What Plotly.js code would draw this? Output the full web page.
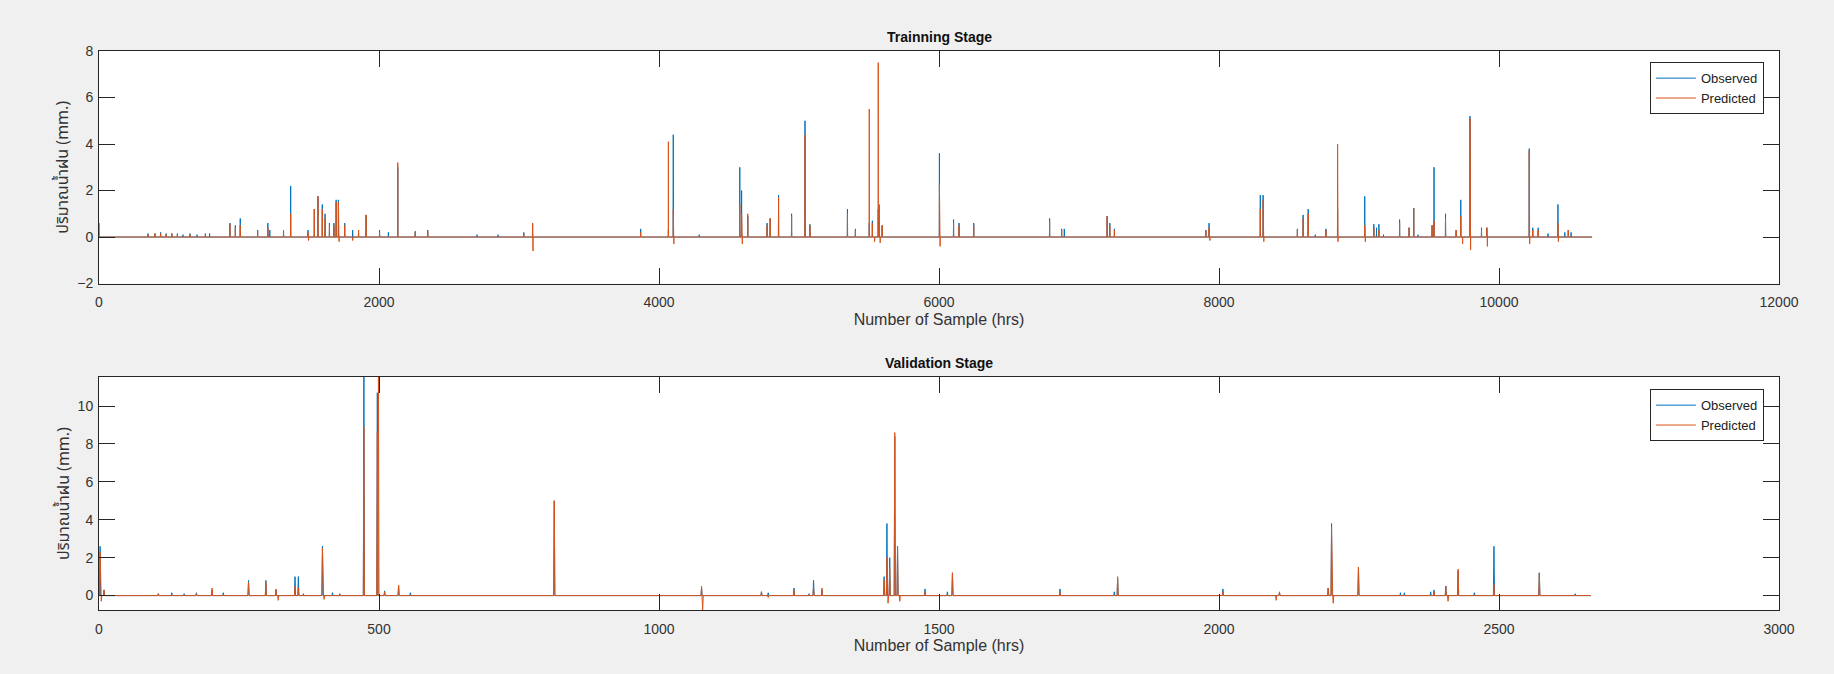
<!DOCTYPE html>
<html>
<head>
<meta charset="utf-8">
<script src="https://cdn.plot.ly/plotly-3.0.1.min.js"></script>
<style>
  html, body { margin: 0; padding: 0; background: #f0f0f0; }
  #chart { width: 1834px; height: 674px; }
</style>
</head>
<body>
<div id="chart"></div>
<script>
// ---------------- DATA ----------------
// Hourly rainfall series are zero except at the spikes listed here.
const trainLength = 10665;
const valLength = 2664;

// Training stage - Observed spikes (sample index, mm)
const trainObsX = [350, 400, 440, 480, 520, 560, 600, 650, 700, 760, 790, 935, 974, 1009, 1133, 1206, 1220, 1318, 1369, 1493, 1538, 1564, 1595, 1615, 1646, 1678, 1694, 1710, 1755, 1812, 1854, 1908, 2004, 2067, 2134, 2259, 2348, 2700, 2850, 3034, 3097, 3869, 4067, 4102, 4287, 4577, 4590, 4634, 4772, 4794, 4854, 4947, 5043, 5078, 5346, 5403, 5502, 5524, 5566, 5572, 5594, 6003, 6104, 6143, 6248, 6790, 6876, 6895, 7201, 7220, 7253, 7906, 7929, 8295, 8315, 8560, 8601, 8637, 8688, 8764, 8847, 9041, 9106, 9125, 9142, 9175, 9290, 9358, 9391, 9421, 9522, 9536, 9618, 9694, 9727, 9793, 9875, 9913, 10216, 10241, 10280, 10350, 10421, 10470, 10495, 10515];
const trainObsY = [0.15, 0.15, 0.2, 0.15, 0.15, 0.15, 0.1, 0.15, 0.1, 0.15, 0.15, 0.6, 0.5, 0.8, 0.3, 0.6, 0.3, 0.2, 2.2, 0.3, 1.2, 1.75, 1.4, 1.0, 0.6, 0.6, 1.6, 1.6, 0.6, 0.3, 0.3, 0.95, 0.3, 0.2, 3.0, 0.25, 0.3, 0.1, 0.1, 0.2, 0.6, 0.35, 0.3, 4.4, 0.1, 3.0, 2.0, 0.9, 0.6, 0.8, 1.8, 1.0, 5.0, 0.55, 1.2, 0.35, 0.6, 0.7, 1.2, 1.4, 0.5, 3.6, 0.75, 0.6, 0.6, 0.8, 0.35, 0.35, 0.9, 0.6, 0.35, 0.3, 0.6, 1.8, 1.8, 0.35, 0.95, 1.2, 0.1, 0.35, 1.2, 1.75, 0.55, 0.4, 0.55, 0.1, 0.75, 0.4, 1.25, 0.1, 0.5, 3.0, 1.0, 0.3, 1.6, 5.2, 0.4, 0.4, 3.8, 0.4, 0.4, 0.15, 1.4, 0.2, 0.3, 0.2];

// Training stage - Predicted spikes
const trainPredX = [0, 350, 400, 440, 480, 520, 560, 650, 760, 935, 974, 1009, 1133, 1206, 1318, 1369, 1493, 1497, 1538, 1564, 1595, 1615, 1646, 1678, 1694, 1710, 1715, 1755, 1812, 1854, 1908, 2004, 2134, 2259, 2348, 3034, 3097, 3100, 3869, 4067, 4102, 4106, 4577, 4590, 4595, 4634, 4772, 4794, 4854, 4947, 5043, 5078, 5346, 5403, 5502, 5524, 5540, 5566, 5580, 5594, 6003, 6008, 6104, 6143, 6248, 6790, 6876, 7201, 7220, 7253, 7906, 7929, 7935, 8295, 8315, 8320, 8560, 8601, 8637, 8764, 8847, 8850, 9041, 9045, 9106, 9142, 9290, 9358, 9391, 9522, 9536, 9618, 9694, 9727, 9740, 9793, 9797, 9875, 9913, 9917, 10216, 10219, 10241, 10280, 10421, 10424, 10495];
const trainPredY = [0.6, 0.1, 0.15, 0.15, 0.1, 0.15, 0.1, 0.1, 0.1, 0.55, 0.4, 0.5, 0.25, 0.4, 0.3, 1.0, 0.2, -0.15, 1.2, 1.75, 1.2, 0.8, 0.5, 0.5, 1.5, 1.5, -0.2, 0.5, -0.15, 0.3, 0.95, 0.2, 3.2, 0.2, 0.25, 0.15, 0.6, -0.6, 0.2, 4.1, 1.2, -0.3, 1.4, 1.0, -0.3, 1.0, 0.5, 0.8, 1.7, 0.9, 4.4, 0.5, 1.0, 0.3, 5.5, 0.6, -0.2, 7.5, -0.25, 0.5, 2.3, -0.4, 0.6, 0.5, 0.5, 0.7, 0.3, 0.9, 0.5, 0.3, 0.3, 0.4, -0.15, 1.2, 1.6, -0.2, 0.3, 0.8, 1.0, 0.3, 4.0, -0.2, 0.5, -0.2, 0.4, 0.3, 0.6, 0.4, 1.25, 0.5, 0.7, 0.8, 0.3, 0.9, -0.3, 5.1, -0.55, 0.3, 0.4, -0.4, 3.7, -0.3, 0.3, 0.3, 0.6, -0.2, 0.3];

// Validation stage - Observed spikes
const valObsX = [2, 9, 106, 130, 152, 174, 202, 222, 267, 298, 316, 350, 356, 365, 399, 417, 430, 473, 497, 510, 535, 556, 813, 1076, 1183, 1195, 1241, 1268, 1276, 1291, 1402, 1407, 1412, 1421, 1426, 1475, 1515, 1524, 1716, 1813, 1819, 2007, 2108, 2195, 2201, 2249, 2324, 2331, 2378, 2384, 2405, 2427, 2456, 2491, 2572, 2636];
const valObsY = [2.6, 0.3, 0.1, 0.15, 0.1, 0.15, 0.3, 0.15, 0.8, 0.8, 0.3, 1.0, 1.0, 0.1, 2.6, 0.15, 0.1, 11.6, 10.7, 0.25, 0.5, 0.15, 5.0, 0.4, 0.2, 0.15, 0.4, 0.1, 0.8, 0.3, 1.0, 3.8, 2.0, 8.4, 2.6, 0.35, 0.2, 1.2, 0.35, 0.2, 0.9, 0.35, 0.15, 0.4, 3.8, 1.5, 0.15, 0.15, 0.2, 0.3, 0.5, 1.3, 0.15, 2.6, 1.2, 0.1];

// Validation stage - Predicted spikes
const valPredX = [2, 4, 9, 106, 174, 202, 267, 298, 316, 320, 350, 356, 399, 402, 473, 497, 499, 510, 535, 813, 1076, 1078, 1183, 1195, 1241, 1276, 1291, 1402, 1407, 1409, 1412, 1421, 1426, 1430, 1475, 1524, 1716, 1819, 2007, 2102, 2108, 2195, 2201, 2204, 2249, 2384, 2405, 2409, 2427, 2491, 2572];
const valPredY = [2.3, -0.3, 0.3, 0.1, 0.1, 0.4, 0.7, 0.7, 0.35, -0.25, 0.5, 0.4, 2.5, -0.2, 8.9, 8.6, 11.6, 0.2, 0.55, 5.0, 0.5, -0.76, 0.2, -0.1, 0.3, 0.5, 0.4, 0.8, 2.0, -0.4, 1.5, 8.6, 2.6, -0.3, 0.2, 1.2, 0.2, 1.0, 0.2, -0.25, 0.2, 0.4, 3.6, -0.4, 1.5, 0.2, 0.5, -0.3, 1.4, 0.6, 1.2];

const seriesNames = ['Observed', 'Predicted'];
const stageTitles = ['Trainning Stage', 'Validation Stage'];
const xTitle = 'Number of Sample (hrs)';
const yTitle = 'ปริมาณน้ำฝน (mm.)';

// ---------------- BUILD SERIES ----------------
function buildSeries(xs, vs, n) {
  const pairs = xs.map((x, i) => [x, vs[i]]).sort((a, b) => a[0] - b[0]);
  const x = [0], y = [0];
  pairs.forEach(([px, pv]) => {
    x.push(px - 1, px, px + 1);
    y.push(0, pv, 0);
  });
  x.push(n); y.push(0);
  return { x, y };
}

const OBS = '#0072BD', PRED = '#D95319';
const tObs = buildSeries(trainObsX, trainObsY, trainLength);
const tPred = buildSeries(trainPredX, trainPredY, trainLength);
const vObs = buildSeries(valObsX, valObsY, valLength);
const vPred = buildSeries(valPredX, valPredY, valLength);

const traces = [
  { x: tObs.x, y: tObs.y, name: seriesNames[0], type: 'scatter', mode: 'lines', line: { color: OBS, width: 1 }, xaxis: 'x', yaxis: 'y', legend: 'legend' },
  { x: tPred.x, y: tPred.y, name: seriesNames[1], type: 'scatter', mode: 'lines', line: { color: PRED, width: 1 }, xaxis: 'x', yaxis: 'y', legend: 'legend' },
  { x: vObs.x, y: vObs.y, name: seriesNames[0], type: 'scatter', mode: 'lines', line: { color: OBS, width: 1 }, xaxis: 'x2', yaxis: 'y2', legend: 'legend2' },
  { x: vPred.x, y: vPred.y, name: seriesNames[1], type: 'scatter', mode: 'lines', line: { color: PRED, width: 1 }, xaxis: 'x2', yaxis: 'y2', legend: 'legend2' }
];

const FONT = 'Liberation Sans, Arial, Noto Sans Thai, Noto Sans, sans-serif';
const AX = '#262626';
function xAxis(range, dtick, anchor) {
  return {
    range: range, dtick: dtick, tick0: 0, anchor: anchor, tickformat: 'd',
    showline: true, linecolor: AX, linewidth: 1, mirror: 'ticks',
    ticks: 'inside', ticklen: 16, tickwidth: 1, tickcolor: AX,
    showgrid: false, zeroline: false,
    tickfont: { family: FONT, size: 14, color: '#333' },
    ticklabelstandoff: 6,
    title: { text: xTitle, font: { family: FONT, size: 16, color: '#333' }, standoff: 4 },
    automargin: false
  };
}
function yAxis(range, tickvals, anchor, domain) {
  return {
    range: range, tickvals: tickvals, anchor: anchor, domain: domain,
    showline: true, linecolor: AX, linewidth: 1, mirror: 'ticks',
    ticks: 'inside', ticklen: 16, tickwidth: 1, tickcolor: AX,
    showgrid: false, zeroline: false,
    tickfont: { family: FONT, size: 14, color: '#333' },
    ticklabelstandoff: 2,
    title: { text: yTitle, font: { family: 'Noto Sans Thai, Noto Sans, Liberation Sans, sans-serif', size: 16, color: '#333' }, standoff: 4 },
    automargin: true
  };
}

const legendStyle = (y) => ({
  x: 0.991, xanchor: 'right', y: y, yanchor: 'top', xref: 'paper', yref: 'paper',
  bgcolor: 'white', bordercolor: AX, borderwidth: 1,
  font: { family: FONT, size: 13, color: '#222' },
  tracegroupgap: 0, itemwidth: 40
});

const layout = {
  width: 1834, height: 674,
  paper_bgcolor: '#f0f0f0', plot_bgcolor: 'white',
  margin: { l: 99, r: 55, t: 51, b: 64 },
  showlegend: true,
  xaxis: xAxis([0, 12000], 2000, 'y'),
  yaxis: yAxis([-2, 8], [-2, 0, 2, 4, 6, 8], 'x', [0.584, 1]),
  xaxis2: xAxis([0, 3000], 500, 'y2'),
  yaxis2: yAxis([-0.76, 11.53], [0, 2, 4, 6, 8, 10], 'x2', [0, 0.4168]),
  legend: legendStyle(0.980),
  legend2: legendStyle(0.395),
  annotations: [
    { text: '<b>' + stageTitles[0] + '</b>', xref: 'paper', yref: 'paper', x: 0.5, y: 1.0256, xanchor: 'center', yanchor: 'middle', showarrow: false, font: { family: FONT, size: 14, color: '#111' } },
    { text: '<b>' + stageTitles[1] + '</b>', xref: 'paper', yref: 'paper', x: 0.5, y: 0.4413, xanchor: 'center', yanchor: 'middle', showarrow: false, font: { family: FONT, size: 14, color: '#111' } }
  ]
};

Plotly.newPlot('chart', traces, layout, { displayModeBar: false, staticPlot: true });
</script>
</body>
</html>
